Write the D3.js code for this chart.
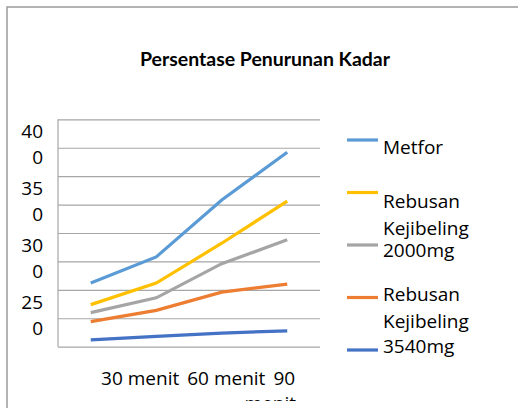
<!doctype html>
<html lang="id">
  <head>
    <meta charset="UTF-8" />
    <title>Persentase Penurunan Kadar</title>
    <script src="https://d3js.org/d3.v7.min.js"></script>
    <style>
      body {
        margin: 0;
        background: #fff;
        font-family: 'Open Sans', 'Liberation Sans', sans-serif;
      }
      .grid line {
        stroke: #a6a6a6;
        stroke-width: 1.2;
      }
      .tick-label {
        font-size: 19px;
        fill: #000;
      }
    </style>
  </head>
  <body>
    <svg id="chart" width="518" height="408"></svg>

    <script>
      // categories (first one has no label in the original)
      const categories = ['', '30 menit', '60 menit', '90 menit']

      // series, in legend order
      const seriesNames = ['Metfor', 'Rebusan Kejibeling 2000mg', '', 'Rebusan Kejibeling 3540mg', '']
      const metfor = [256, 279, 329, 371]
      const rebusanA = [237, 256, 291, 328]
      const rebusanB = [230, 243, 273, 294]
      const rebusanC = [222, 232, 248, 255]
      const rebusanD = [206, 209, 212, 214]

      // y axis
      const yTicks = [200, 225, 250, 275, 300, 325, 350, 375, 400]
      const yLabels = [400, 350, 300, 250]

      const colors = ['#5B9BD5', '#FFC000', '#A5A5A5', '#ED7D31', '#4472C4']
      const allSeries = [metfor, rebusanA, rebusanB, rebusanC, rebusanD]

      // legend text as it wraps in the original
      const legendLines = [['Metfor'], ['Rebusan', 'Kejibeling'], ['2000mg'], ['Rebusan', 'Kejibeling'], ['3540mg']]
      const legendOffsets = [14, 15, 12, 3, 3]

      const svg = d3.select('#chart')
      const plot = { left: 58, right: 320, top: 119.3, bottom: 346.7 }

      const x = d3.scalePoint().domain(categories).range([plot.left, plot.right]).padding(0.5)
      const y = d3.scaleLinear().domain([200, 400]).range([plot.bottom, plot.top])

      // chart frame
      svg.append('rect')
        .attr('x', 7).attr('y', 7)
        .attr('width', 530).attr('height', 420)
        .attr('fill', 'none')
        .attr('stroke', '#9a9a9a')
        .attr('stroke-width', 1.5)

      // title
      svg.append('text')
        .attr('x', 265).attr('y', 66)
        .attr('text-anchor', 'middle')
        .attr('font-family', 'Lato, sans-serif')
        .attr('font-weight', 'bold')
        .attr('font-size', 18)
        .attr('textLength', 250)
        .attr('lengthAdjust', 'spacingAndGlyphs')
        .text('Persentase Penurunan Kadar')

      // gridlines
      svg.append('g')
        .attr('class', 'grid')
        .attr('transform', `translate(${plot.left},0)`)
        .call(d3.axisLeft(y).tickValues(yTicks).tickSize(-(plot.right - plot.left)).tickFormat(''))
        .call((g) => g.select('.domain').remove())

      // left axis line
      svg.append('line')
        .attr('x1', plot.left).attr('x2', plot.left)
        .attr('y1', y(400)).attr('y2', y(200))
        .attr('stroke', '#a6a6a6')
        .attr('stroke-width', 1.2)

      // y labels, wrapped to two lines like the original
      const yl = svg.append('g')
      yLabels.forEach((v) => {
        const s = String(v)
        const t = yl.append('text').attr('class', 'tick-label').attr('text-anchor', 'end')
        t.append('tspan').attr('x', 43).attr('y', y(v) + 19).text(s.slice(0, 2))
        t.append('tspan').attr('x', 43).attr('y', y(v) + 45).text(s.slice(2))
      })

      // x labels: packed right to left with a fixed gap
      svg.append('clipPath').attr('id', 'clip')
        .append('rect').attr('x', 0).attr('y', 0).attr('width', 518).attr('height', 401)
      const xl = svg.append('g').attr('clip-path', 'url(#clip)')
      const shown = categories.filter((c) => c !== '')
      let rightEdge = null
      for (let i = shown.length - 1; i >= 0; i--) {
        const c = shown[i]
        const last = i === shown.length - 1
        const parts = last ? c.split(' ') : [c]
        const t = xl.append('text').attr('class', 'tick-label').attr('y', 385).text(parts[0])
        const w = t.node().getComputedTextLength()
        const cx = last ? x(c) - 3 : rightEdge - 8 - w / 2
        t.attr('x', cx - w / 2)
        rightEdge = cx - w / 2
        if (parts.length > 1) {
          xl.append('text').attr('class', 'tick-label')
            .attr('x', cx - 14).attr('y', 410)
            .attr('text-anchor', 'middle')
            .text(parts[1])
        }
      }

      // lines, bottom series first so the top ones sit above
      const line = d3.line().x((d, i) => x(categories[i])).y((d) => y(d))
      allSeries.slice().reverse().forEach((s, j) => {
        const i = allSeries.length - 1 - j
        svg.append('path')
          .datum(s)
          .attr('d', line)
          .attr('fill', 'none')
          .attr('stroke', colors[i])
          .attr('stroke-width', 3.2)
      })

      // legend
      const lg = svg.append('g')
      seriesNames.forEach((name, i) => {
        const sy = 140 + i * 52.5
        lg.append('line')
          .attr('x1', 347).attr('x2', 378)
          .attr('y1', sy).attr('y2', sy)
          .attr('stroke', colors[i])
          .attr('stroke-width', 3.2)
        legendLines[i].forEach((txt, k) => {
          lg.append('text')
            .attr('class', 'tick-label')
            .attr('x', 383)
            .attr('y', sy + legendOffsets[i] + k * 27)
            .text(txt)
        })
      })
    </script>
  </body>
</html>
